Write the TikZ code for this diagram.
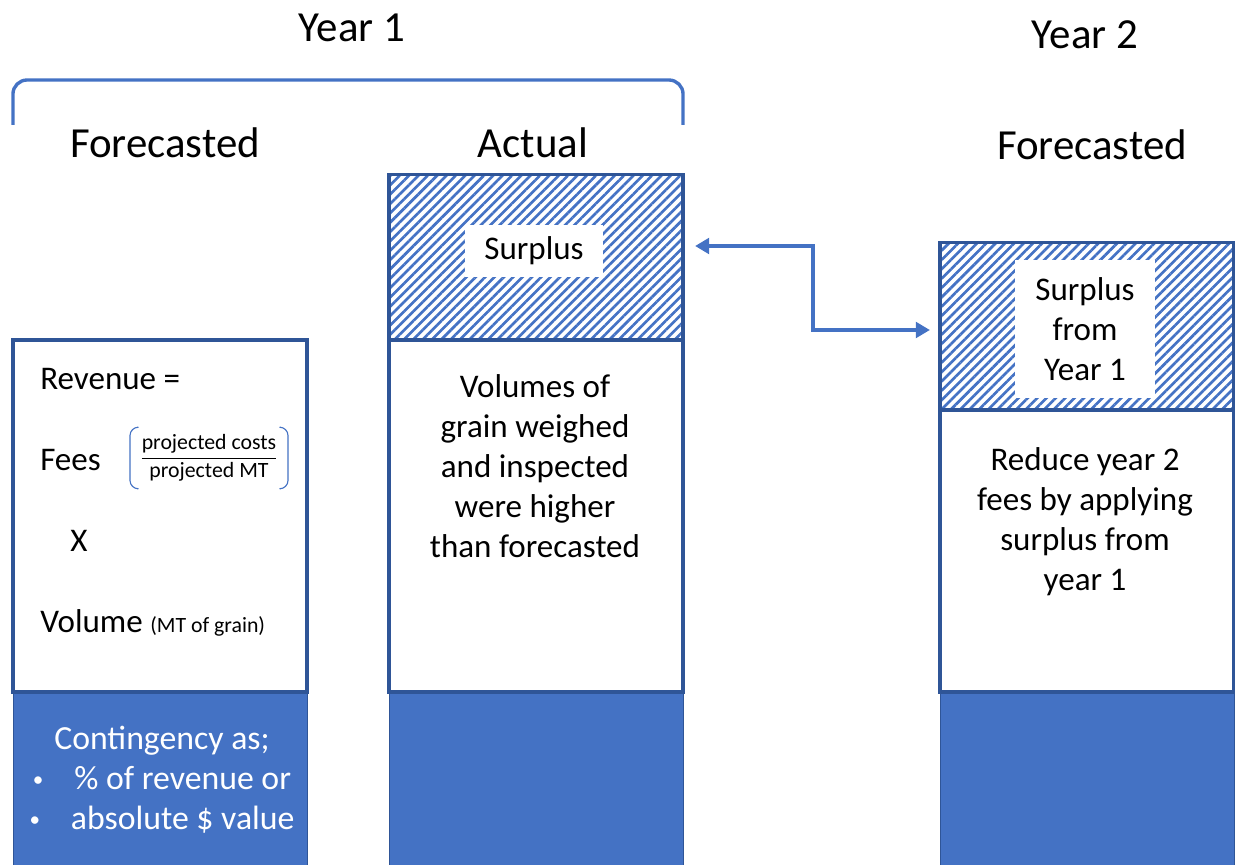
\documentclass[tikz,border=0pt]{standalone}
\usepackage{fontspec}
\setmainfont{Carlito}
\usepackage{amsmath}
\usetikzlibrary{positioning,arrows.meta,patterns.meta}
\definecolor{fillblue}{HTML}{4472C4}
\definecolor{edgeblue}{HTML}{2F5597}
\newcommand{\bodyfont}{\fontsize{23.5}{28.4}\selectfont}
\newcommand{\headfont}{\fontsize{30.5}{36}\selectfont}
\newcommand{\smallfont}{\fontsize{15.5}{18}\selectfont}
\newcommand{\dotmark}{{\fontsize{15}{15}\selectfont\raisebox{2pt}{\textbullet}}}

\begin{document}
\begin{tikzpicture}[x=0.025cm,y=-0.025cm,
    column/.style={minimum width=7.35cm,inner sep=0pt,outer sep=0pt},
    plain/.style={column,draw=edgeblue,line width=2.3pt,fill=white},
    hatched/.style={column,draw=edgeblue,line width=2.3pt,
        pattern={Lines[angle=45,distance=4.7pt,line width=1.9pt]},pattern color=fillblue},
    base/.style={column,fill=fillblue,draw=edgeblue,line width=0.6pt,minimum height=4.35cm},
    label/.style={font=\bodyfont,align=center},
    term/.style={font=\bodyfont,anchor=base west,inner sep=0pt},
    head/.style={font=\headfont},
    bracket/.style={draw=fillblue,line width=2.4pt,rounded corners=10pt},
    paren/.style={draw=fillblue,line width=0.8pt,rounded corners=6pt},
    link/.style={draw=fillblue,line width=3pt,
        {Triangle[length=10pt,width=11pt]}-{Triangle[length=10pt,width=11pt]},
        shorten <=0.3cm,shorten >=0.25cm}]
    \useasboundingbox (0,0) rectangle (1235,865);

    % columns
    \node[base]                                           (baseF)  at (160,779)  {};
    \node[plain,minimum height=8.8cm,above=0pt of baseF]  (bodyF)                {};
    \node[base]                                           (baseA)  at (536,779)  {};
    \node[plain,minimum height=8.8cm,above=0pt of baseA]  (bodyA)                {};
    \node[hatched,minimum height=4.125cm,above=0pt of bodyA] (hatchA)            {};
    \node[base]                                           (baseB)  at (1087,779) {};
    \node[plain,minimum height=7.05cm,above=0pt of baseB] (bodyB)                {};
    \node[hatched,minimum height=4.175cm,above=0pt of bodyB] (hatchB)            {};

    % headings
    \node[head] (year1)  at (352,28)   {Year 1};
    \node[head] (year2)  at (1085,35)  {Year 2};
    \node[head] (foreF)  at (165,143)  {Forecasted};
    \node[head] (actual) at (533,143)  {Actual};
    \node[head] (foreB)  at (1092,145) {Forecasted};

    \coordinate (braceTop) at (0,80);
    \coordinate (braceBot) at (0,125);
    \draw[bracket] (bodyF.west |- braceBot) -- (bodyF.west |- braceTop)
                -- (hatchA.east |- braceTop) -- (hatchA.east |- braceBot);

    % forecasted year 1
    \node[term] (revenue) at (40,390) {Revenue =};
    \node[term] (fees)    at (40,470) {Fees};
    \node[font=\smallfont,inner sep=0pt,minimum height=1.525cm] (frac) at (209,458)
        {$\dfrac{\text{projected costs}}{\text{projected MT}}$};
    \draw[paren] ([xshift=-2pt]frac.north west) -- ([xshift=-7pt]frac.north west)
              -- ([xshift=-7pt]frac.south west) -- ([xshift=-2pt]frac.south west);
    \draw[paren] ([xshift=2pt]frac.north east) -- ([xshift=7pt]frac.north east)
              -- ([xshift=7pt]frac.south east) -- ([xshift=2pt]frac.south east);
    \node[term] (times)   at (70,551)  {X};
    \node[term] (volume)  at (40,632)  {Volume {\smallfont (MT of grain)}};
    \node[label,text=white,font=\fontsize{24}{28.4}\selectfont] (contingency) at (162,780)
        {Contingency as;\\\dotmark\hspace{22pt}\% of revenue or\\\dotmark\hspace{22pt}absolute \$ value};

    % actual year 1
    \node[label,fill=white,minimum width=3.45cm,minimum height=1.275cm] (surplusA) at (534,251) {Surplus};
    \node[label] (volumes) at (535,466)
        {Volumes of\\grain weighed\\and inspected\\were higher\\than forecasted};

    % forecasted year 2
    \node[label,fill=white,minimum width=3.475cm,minimum height=3.425cm] (surplusB) at (1085,329)
        {Surplus\\from\\Year 1};
    \node[label] (reduce) at (1085,522)
        {Reduce year 2\\fees by applying\\surplus from\\year 1};

    \coordinate (kneeTop) at (813,246);
    \coordinate (kneeBot) at (813,330);
    \draw[link] (kneeTop -| hatchA.east) -- (kneeTop) -- (kneeBot) -- (kneeBot -| hatchB.west);
\end{tikzpicture}
\end{document}
